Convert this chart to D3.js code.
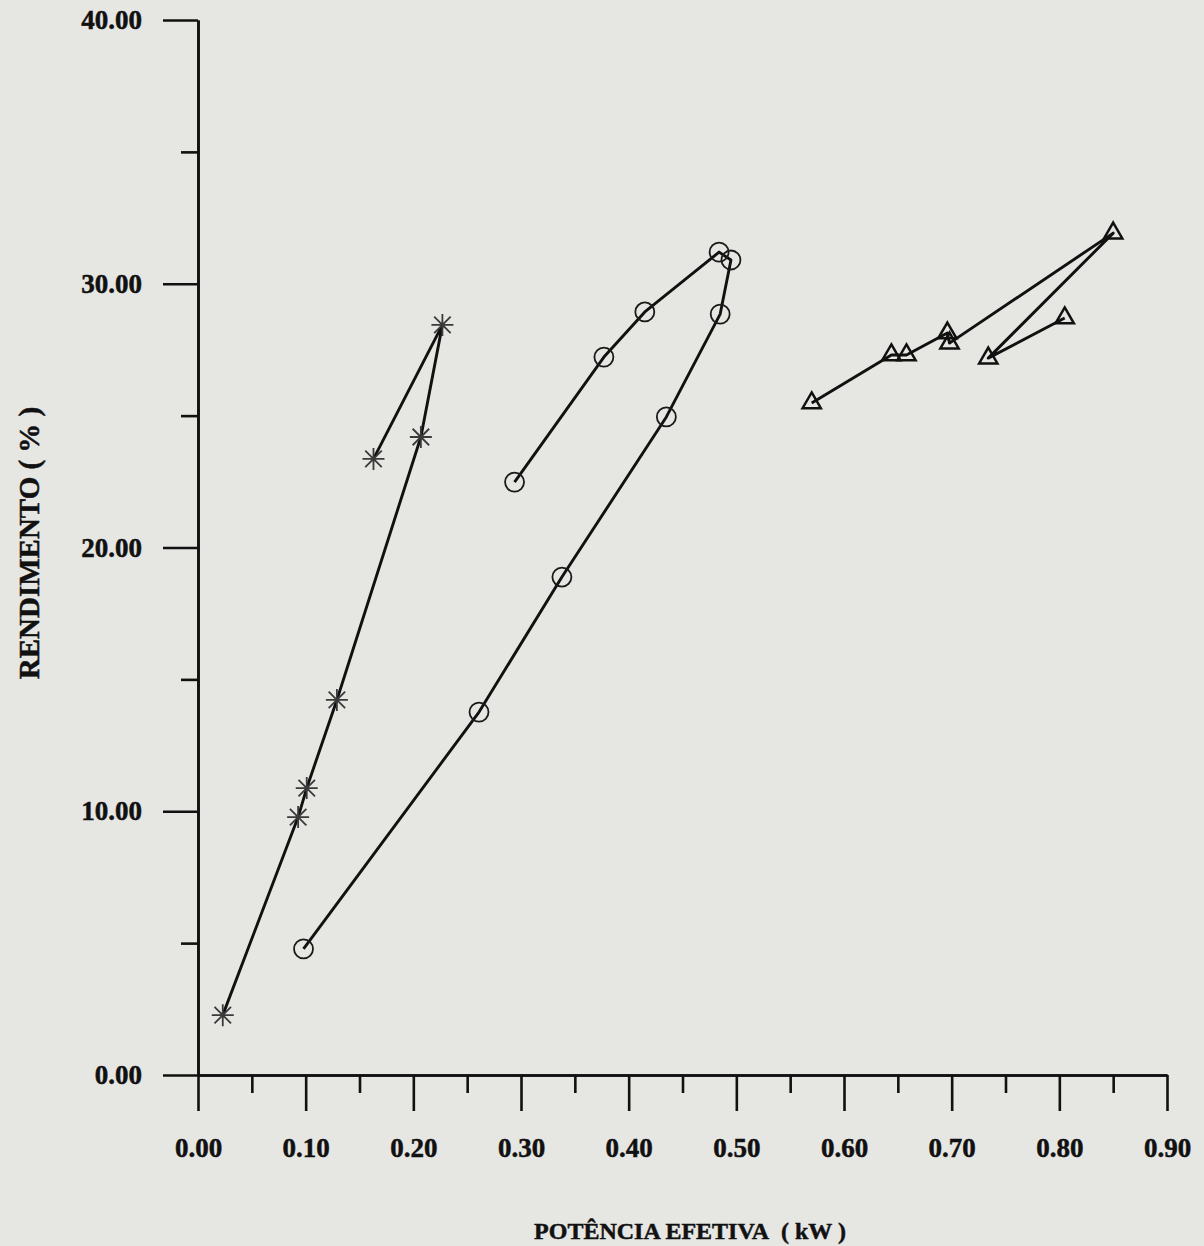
<!DOCTYPE html>
<html>
<head>
<meta charset="utf-8">
<script src="https://cdn.jsdelivr.net/npm/d3@7"></script>
<style>
  body { margin: 0; background: #e6e6e3; }
  svg { display: block; }
  text { font-family: "Liberation Serif", "Times New Roman", serif; font-weight: bold; fill: #111; stroke: #111; stroke-width: 0.5px; }
</style>
</head>
<body>
<svg id="chart"></svg>
<script>
// Data (x = potencia efetiva kW, y = rendimento %)
const starX = [0.023, 0.093, 0.101, 0.129, 0.207, 0.227, 0.163];
const starY = [2.27, 9.78, 10.88, 14.22, 24.19, 28.44, 23.36];

const circleX = [0.294, 0.377, 0.415, 0.484, 0.495, 0.485, 0.435, 0.338, 0.261, 0.098];
const circleY = [22.48, 27.22, 28.93, 31.20, 30.90, 28.85, 24.95, 18.88, 13.76, 4.78];

const triX = [0.570, 0.644, 0.658, 0.696, 0.698, 0.850, 0.734, 0.805];
const triY = [25.48, 27.30, 27.30, 28.13, 27.75, 31.92, 27.18, 28.70];

// Tick values
const xMajor = [0, 0.1, 0.2, 0.3, 0.4, 0.5, 0.6, 0.7, 0.8, 0.9];
const xMinor = [0.05, 0.15, 0.25, 0.35, 0.45, 0.55, 0.65, 0.75, 0.85];
const yMajor = [0, 10, 20, 30, 40];
const yMinor = [5, 15, 25, 35];

const xTitle = "POTÊNCIA EFETIVA\u00a0\u00a0( kW )";
const yTitle = "RENDIMENTO ( % )";

width = 1204;
height = 1246;

svg = d3.select("#chart")
  .attr("width", width)
  .attr("height", height);

const x = d3.scaleLinear().domain([0, 0.9]).range([198, 1167]);
const y = d3.scaleLinear().domain([0, 40]).range([1075, 20]);

const fmt = d3.format(".2f");
const ink = "#111";

// x axis: major + minor ticks pointing down
svg.append("g")
  .attr("transform", `translate(0, ${y(0)})`)
  .call(d3.axisBottom(x).tickValues(xMajor).tickFormat(fmt).tickSize(36).tickSizeOuter(0).tickPadding(27));
svg.append("g")
  .attr("transform", `translate(0, ${y(0)})`)
  .call(d3.axisBottom(x).tickValues(xMinor).tickFormat("").tickSize(18).tickSizeOuter(0));

// y axis: major + minor ticks pointing left
svg.append("g")
  .attr("transform", `translate(${x(0)}, 0)`)
  .call(d3.axisLeft(y).tickValues(yMajor).tickFormat(fmt).tickSize(35).tickSizeOuter(0).tickPadding(21));
svg.append("g")
  .attr("transform", `translate(${x(0)}, 0)`)
  .call(d3.axisLeft(y).tickValues(yMinor).tickFormat("").tickSize(17).tickSizeOuter(0));

svg.selectAll(".domain, .tick line")
  .attr("stroke", ink)
  .attr("stroke-width", 2.6);

svg.selectAll(".tick text")
  .style("font-size", "27px")
  .attr("fill", ink);

// axis titles
svg.append("text")
  .attr("x", 690)
  .attr("y", 1239)
  .attr("text-anchor", "middle")
  .style("font-size", "24px")
  .text(xTitle);

svg.append("text")
  .attr("transform", "translate(39, 543) rotate(-90)")
  .attr("text-anchor", "middle")
  .style("font-size", "29px")
  .text(yTitle);

// series lines
const line = d3.line()
  .x(d => x(d[0]))
  .y(d => y(d[1]));

const stars = d3.zip(starX, starY);
const circles = d3.zip(circleX, circleY);
const tris = d3.zip(triX, triY);

[stars, circles, tris].forEach(pts => {
  svg.append("path")
    .datum(pts)
    .attr("fill", "none")
    .attr("stroke", ink)
    .attr("stroke-width", 2.9)
    .attr("stroke-linejoin", "round")
    .attr("d", line);
});

// asterisk markers (8 arms)
const r = 11;
const starPath = `M0,${-r}V${r}M${-r},0H${r}M${-r * 0.75},${-r * 0.75}L${r * 0.75},${r * 0.75}M${-r * 0.75},${r * 0.75}L${r * 0.75},${-r * 0.75}`;
svg.append("g")
  .selectAll("path")
  .data(stars)
  .enter()
  .append("path")
  .attr("transform", d => `translate(${x(d[0])}, ${y(d[1])})`)
  .attr("d", starPath)
  .attr("fill", "none")
  .attr("stroke", "#3a3a3a")
  .attr("stroke-width", 1.8);

// circle markers
svg.append("g")
  .selectAll("circle")
  .data(circles)
  .enter()
  .append("circle")
  .attr("cx", d => x(d[0]))
  .attr("cy", d => y(d[1]))
  .attr("r", 9.5)
  .attr("fill", "none")
  .attr("stroke", "#1a1a1a")
  .attr("stroke-width", 1.8);

// triangle markers
svg.append("g")
  .selectAll("path")
  .data(tris)
  .enter()
  .append("path")
  .attr("transform", d => `translate(${x(d[0])}, ${y(d[1])})`)
  .attr("d", d3.symbol().type(d3.symbolTriangle).size(145))
  .attr("fill", "none")
  .attr("stroke", ink)
  .attr("stroke-width", 2.5)
  .attr("stroke-linejoin", "miter");
</script>
</body>
</html>
